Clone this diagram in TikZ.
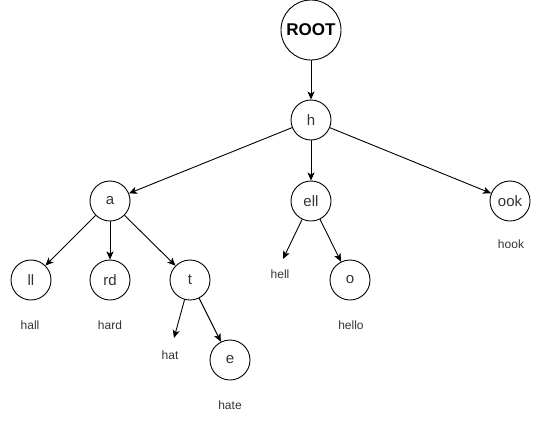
\documentclass[tikz,border=0pt]{standalone}
\usepackage{fontspec}
\setmainfont{Liberation Sans}
\usetikzlibrary{arrows.meta}
\begin{document}
\begin{tikzpicture}[x=1pt,y=-1pt,
  trienode/.style={circle,draw,line width=0.9pt,minimum size=40pt,inner sep=0pt,
    font=\fontsize{15}{17}\selectfont,text=black!80},
  rootnode/.style={trienode,minimum size=60pt,font=\fontsize{17}{19}\selectfont\bfseries,text=black},
  wordlabel/.style={font=\fontsize{12}{14}\selectfont,text=black!80,inner sep=0pt},
  edge/.style={line width=0.9pt,-{Stealth[length=8pt,width=7pt,inset=2pt]}}]
\useasboundingbox (0,0) rectangle (541,421);
% trie nodes
\node[rootnode] (root) at (311,30) {ROOT};
\node[trienode] (h) at (311,120) {h};
\node[trienode] (a) at (110,201) {a};
\node[trienode] (ell) at (311,201) {ell};
\node[trienode] (ook) at (510,201) {ook};
\node[trienode] (ll) at (31,280) {ll};
\node[trienode] (rd) at (110,280) {rd};
\node[trienode] (t) at (190,280) {t};
\node[trienode] (o) at (350,280) {o};
\node[trienode] (e) at (230,360) {e};
% free arrow ends for words ending inside a node
\coordinate (hellend) at (283,259);
\coordinate (hatend) at (174,338);
% complete words
\node[wordlabel] (hall) at (30,325) {hall};
\node[wordlabel] (hard) at (110,325) {hard};
\node[wordlabel] (hat) at (170,355) {hat};
\node[wordlabel] (hate) at (230,405) {hate};
\node[wordlabel] (hell) at (280,274) {hell};
\node[wordlabel] (hello) at (351,325) {hello};
\node[wordlabel] (hook) at (511,244) {hook};
% edges
\draw[edge] (root) -- (h);
\draw[edge] (h) -- (a);
\draw[edge] (h) -- (ell);
\draw[edge] (h) -- (ook);
\draw[edge] (a) -- (ll);
\draw[edge] (a) -- (rd);
\draw[edge] (a) -- (t);
\draw[edge] (ell) -- (hellend);
\draw[edge] (ell) -- (o);
\draw[edge] (t) -- (hatend);
\draw[edge] (t) -- (e);
\end{tikzpicture}
\end{document}
